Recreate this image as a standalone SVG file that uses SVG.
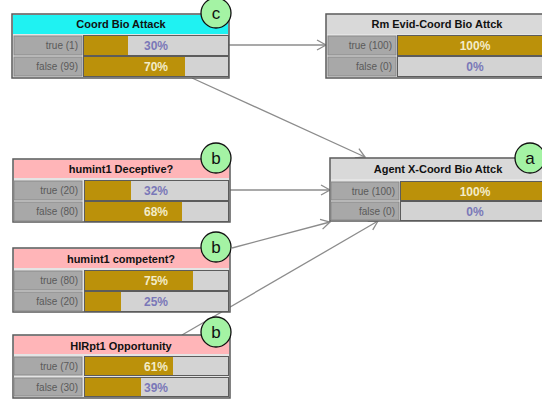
<svg xmlns="http://www.w3.org/2000/svg" width="542" height="400" viewBox="0 0 542 400">
  <style>
    .frame { fill: #e4e4e4; stroke: #5a5a5a; stroke-width: 1.5; }
    .hd-cyan { fill: #1ff2f2; }
    .hd-pink { fill: #ffb5b8; }
    .hd-gray { fill: #d9d9d9; }
    .title { font-family: "Liberation Sans", Arial, sans-serif; font-size: 11px; font-weight: bold; fill: #111; text-anchor: middle; }
    .cell { fill: #a8a8a8; stroke: #8a8a8a; stroke-width: 1; }
    .track { fill: #d3d3d3; stroke: #5c5c5c; stroke-width: 1; }
    .fill { fill: #bb910a; }
    .lbl { font-family: "Liberation Sans", Arial, sans-serif; font-size: 10px; fill: #5a5a5a; text-anchor: end; }
    .pct { font-family: "Liberation Sans", Arial, sans-serif; font-size: 12px; font-weight: bold; text-anchor: middle; }
    .on { fill: #f3ecc8; }
    .off { fill: #7a78b8; }
    .edge { fill: none; stroke: #8c8c8c; stroke-width: 1.3; }
    .tag circle { fill: #a4f3a4; stroke: #111; stroke-width: 1.3; }
    .tag text { font-family: "Liberation Sans", Arial, sans-serif; font-size: 17px; fill: #111; text-anchor: middle; }
  </style>
  <defs>
    <marker id="arrow" markerWidth="12" markerHeight="12" refX="10" refY="6" orient="auto" markerUnits="userSpaceOnUse">
      <path d="M1,1 L10,6 L1,11" fill="none" stroke="#8c8c8c" stroke-width="1.3"/>
    </marker>
  </defs>

  <!-- connectors -->
  <g id="connectors">
    <line class="edge" x1="229" y1="45" x2="326" y2="45" marker-end="url(#arrow)"/>
    <line class="edge" x1="192" y1="78" x2="365" y2="157" marker-end="url(#arrow)"/>
    <line class="edge" x1="230" y1="190" x2="330" y2="190" marker-end="url(#arrow)"/>
    <line class="edge" x1="232" y1="248" x2="330" y2="222" marker-end="url(#arrow)"/>
    <line class="edge" x1="182" y1="335" x2="378" y2="221" marker-end="url(#arrow)"/>
  </g>

  <!-- Coord Bio Attack -->
  <g id="coord-bio-attack">
    <rect class="frame" x="12" y="14" width="217" height="64"/>
    <rect class="hd-cyan" x="13" y="15" width="215" height="19"/>
    <text class="title" x="121" y="28">Coord Bio Attack</text>
    <rect class="cell" x="14" y="36" width="68" height="19"/>
    <rect class="track" x="83.5" y="35.5" width="145" height="20"/>
    <rect class="fill" x="84" y="36" width="44" height="19"/>
    <text class="lbl" x="78" y="49">true (1)</text>
    <text class="pct off" x="156" y="50">30%</text>
    <rect class="cell" x="14" y="57" width="68" height="19"/>
    <rect class="track" x="83.5" y="56.5" width="145" height="20"/>
    <rect class="fill" x="84" y="57" width="101" height="19"/>
    <text class="lbl" x="78" y="70">false (99)</text>
    <text class="pct on" x="156" y="71">70%</text>
  </g>

  <!-- Rm Evid-Coord Bio Attck -->
  <g id="rm-evid">
    <rect class="frame" x="326" y="14" width="222" height="64"/>
    <rect class="hd-gray" x="327" y="15" width="220" height="19"/>
    <text class="title" x="437" y="28">Rm Evid-Coord Bio Attck</text>
    <rect class="cell" x="328" y="36" width="68" height="19"/>
    <rect class="track" x="397.5" y="35.5" width="150" height="20"/>
    <rect class="fill" x="398" y="36" width="150" height="19"/>
    <text class="lbl" x="392" y="49">true (100)</text>
    <text class="pct on" x="475" y="50">100%</text>
    <rect class="cell" x="328" y="57" width="68" height="19"/>
    <rect class="track" x="397.5" y="56.5" width="150" height="20"/>
    <text class="lbl" x="392" y="70">false (0)</text>
    <text class="pct off" x="475" y="71">0%</text>
  </g>

  <!-- humint1 Deceptive? -->
  <g id="humint1-deceptive">
    <rect class="frame" x="13" y="159" width="217" height="63"/>
    <rect class="hd-pink" x="14" y="160" width="215" height="18"/>
    <text class="title" x="121" y="173">humint1 Deceptive?</text>
    <rect class="cell" x="14" y="181" width="68" height="19"/>
    <rect class="track" x="84.5" y="180.5" width="144" height="20"/>
    <rect class="fill" x="85" y="181" width="46" height="19"/>
    <text class="lbl" x="78" y="194">true (20)</text>
    <text class="pct off" x="156" y="195">32%</text>
    <rect class="cell" x="14" y="202" width="68" height="19"/>
    <rect class="track" x="84.5" y="201.5" width="144" height="20"/>
    <rect class="fill" x="85" y="202" width="97" height="19"/>
    <text class="lbl" x="78" y="215">false (80)</text>
    <text class="pct on" x="156" y="216">68%</text>
  </g>

  <!-- Agent X-Coord Bio Attck -->
  <g id="agent-x">
    <rect class="frame" x="330" y="158" width="222" height="63"/>
    <rect class="hd-gray" x="331" y="159" width="220" height="20"/>
    <text class="title" x="438" y="173">Agent X-Coord Bio Attck</text>
    <rect class="cell" x="331" y="182" width="68" height="18"/>
    <rect class="track" x="400.5" y="181.5" width="150" height="19"/>
    <rect class="fill" x="401" y="182" width="150" height="18"/>
    <text class="lbl" x="395" y="195">true (100)</text>
    <text class="pct on" x="475" y="196">100%</text>
    <rect class="cell" x="331" y="202" width="68" height="18"/>
    <rect class="track" x="400.5" y="201.5" width="150" height="19"/>
    <text class="lbl" x="395" y="215">false (0)</text>
    <text class="pct off" x="475" y="216">0%</text>
  </g>

  <!-- humint1 competent? -->
  <g id="humint1-competent">
    <rect class="frame" x="13" y="248" width="217" height="64"/>
    <rect class="hd-pink" x="14" y="249" width="215" height="19"/>
    <text class="title" x="121" y="263">humint1 competent?</text>
    <rect class="cell" x="14" y="271" width="68" height="19"/>
    <rect class="track" x="84.5" y="270.5" width="144" height="20"/>
    <rect class="fill" x="85" y="271" width="108" height="19"/>
    <text class="lbl" x="78" y="284">true (80)</text>
    <text class="pct on" x="156" y="285">75%</text>
    <rect class="cell" x="14" y="292" width="68" height="19"/>
    <rect class="track" x="84.5" y="291.5" width="144" height="20"/>
    <rect class="fill" x="85" y="292" width="36" height="19"/>
    <text class="lbl" x="78" y="305">false (20)</text>
    <text class="pct off" x="156" y="306">25%</text>
  </g>

  <!-- HIRpt1 Opportunity -->
  <g id="hirpt1-opportunity">
    <rect class="frame" x="13" y="335" width="217" height="63"/>
    <rect class="hd-pink" x="14" y="336" width="215" height="18"/>
    <text class="title" x="121" y="350">HIRpt1 Opportunity</text>
    <rect class="cell" x="14" y="357" width="68" height="18"/>
    <rect class="track" x="84.5" y="356.5" width="144" height="19"/>
    <rect class="fill" x="85" y="357" width="88" height="18"/>
    <text class="lbl" x="78" y="370">true (70)</text>
    <text class="pct on" x="156" y="371">61%</text>
    <rect class="cell" x="14" y="378" width="68" height="18"/>
    <rect class="track" x="84.5" y="377.5" width="144" height="19"/>
    <rect class="fill" x="85" y="378" width="56" height="18"/>
    <text class="lbl" x="78" y="391">false (30)</text>
    <text class="pct off" x="156" y="392">39%</text>
  </g>

  <!-- callout tags -->
  <g id="tag-c" class="tag"><circle cx="216" cy="13" r="15"/><text x="216" y="19">c</text></g>
  <g id="tag-a" class="tag"><circle cx="530" cy="158" r="15"/><text x="530" y="164">a</text></g>
  <g id="tag-b1" class="tag"><circle cx="216" cy="158" r="15"/><text x="216" y="164">b</text></g>
  <g id="tag-b2" class="tag"><circle cx="216" cy="247" r="15"/><text x="216" y="253">b</text></g>
  <g id="tag-b3" class="tag"><circle cx="216" cy="332" r="15"/><text x="216" y="338">b</text></g>
</svg>
